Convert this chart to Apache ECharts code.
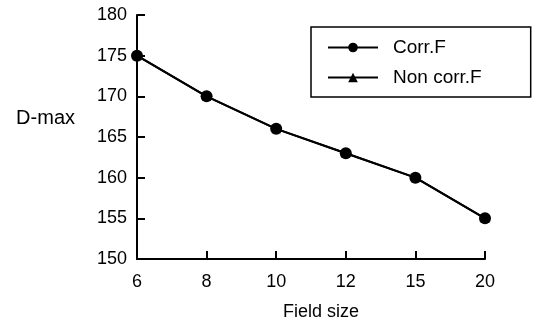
<!DOCTYPE html>
<html>
<head>
<meta charset="utf-8">
<script src="https://cdn.jsdelivr.net/npm/echarts@6/dist/echarts.min.js"></script>
<style>
html, body { margin: 0; padding: 0; background: #fff; }
#main { width: 535px; height: 327px; }
</style>
</head>
<body>
<div id="main"></div>
<script>
var fieldSizes = ['6', '8', '10', '12', '15', '20'];
var corrF = [175, 170, 166, 163, 160, 155];
var nonCorrF = [175, 170, 166, 163, 160, 155];

var myChart = echarts.init(document.getElementById('main'));
var font = 'Liberation Sans';

option = {
    backgroundColor: '#fff',
    animation: false,
    textStyle: { fontFamily: font, color: '#000' },
    grid: { left: 137, right: 50, top: 15, bottom: 68 },
    legend: {
        orient: 'vertical',
        left: 311,
        top: 27,
        width: 220,
        padding: [11, 49, 10, 16],
        itemGap: 11,
        itemWidth: 50,
        itemHeight: 12,
        borderColor: '#000',
        borderWidth: 1.5,
        textStyle: { fontFamily: font, fontSize: 19, color: '#000', padding: [0, 0, 0, 10] },
        data: ['Corr.F', 'Non corr.F']
    },
    xAxis: {
        type: 'category',
        data: fieldSizes,
        boundaryGap: false,
        name: 'Field size',
        nameLocation: 'middle',
        nameGap: 44,
        nameTextStyle: { fontFamily: font, fontSize: 18, color: '#000', padding: [0, 0, 0, 20] },
        axisLine: { lineStyle: { color: '#000', width: 2 } },
        axisTick: { show: true, inside: true, length: 8, lineStyle: { color: '#000', width: 2 } },
        axisLabel: { fontFamily: font, fontSize: 18, color: '#000', margin: 14 },
        splitLine: { show: false }
    },
    yAxis: {
        type: 'value',
        min: 150,
        max: 180,
        interval: 5,
        name: 'D-max',
        nameLocation: 'middle',
        nameRotate: 0,
        nameGap: 62,
        nameTextStyle: { fontFamily: font, fontSize: 20, color: '#000', align: 'right', verticalAlign: 'bottom', padding: [0, 0, 9, 0] },
        axisLine: { show: true, lineStyle: { color: '#000', width: 2 } },
        axisTick: { show: true, inside: true, length: 8, lineStyle: { color: '#000', width: 2 } },
        axisLabel: { fontFamily: font, fontSize: 18, color: '#000', margin: 10 },
        splitLine: { show: false }
    },
    series: [
        {
            name: 'Corr.F',
            type: 'line',
            data: corrF,
            z: 3,
            symbol: 'circle',
            symbolSize: 12,
            itemStyle: { color: '#000' },
            lineStyle: { color: '#000', width: 2 }
        },
        {
            name: 'Non corr.F',
            type: 'line',
            data: nonCorrF,
            z: 2,
            symbol: 'triangle',
            symbolSize: 9,
            itemStyle: { color: '#000' },
            lineStyle: { color: '#000', width: 2 }
        }
    ]
};

myChart.setOption(option);
</script>
</body>
</html>
